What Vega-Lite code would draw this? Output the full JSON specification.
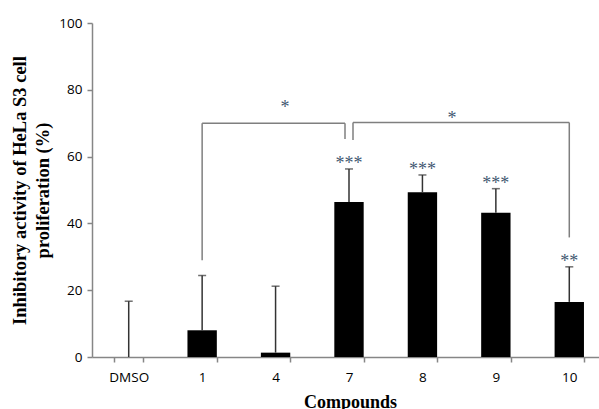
{
  "$schema": "https://vega.github.io/schema/vega-lite/v6.json",
  "autosize": {"type": "none"},
  "width": 506,
  "height": 334,
  "padding": {"left": 92, "top": 23, "right": 1, "bottom": 52},
  "background": "white",
  "config": {"view": {"stroke": null}},
  "datasets": {
    "bars": [
      {"c": "DMSO", "v": 0, "u": 16.7, "star": ""},
      {"c": "1", "v": 8.0, "u": 24.4, "star": ""},
      {"c": "4", "v": 1.3, "u": 21.2, "star": ""},
      {"c": "7", "v": 46.4, "u": 56.3, "star": "***"},
      {"c": "8", "v": 49.3, "u": 54.5, "star": "***"},
      {"c": "9", "v": 43.2, "u": 50.4, "star": "***"},
      {"c": "10", "v": 16.5, "u": 27.0, "star": "**"}
    ],
    "brackets": [
      {"id": "L", "from": "1", "to": "7", "top": 70, "fromEnd": 29, "toEnd": 65.3, "sig": "*", "at": "4", "sigY": 75.5},
      {"id": "R", "from": "7", "to": "10", "top": 70.2, "fromEnd": 65, "toEnd": 35.8, "sig": "*", "at": "8", "sigY": 72.2}
    ]
  },
  "layer": [
    {
      "data": {"name": "bars"},
      "mark": {"type": "bar", "color": "black"},
      "encoding": {
        "x": {
          "field": "c", "type": "nominal", "title": "Compounds",
          "scale": {"domain": ["DMSO", "1", "4", "7", "8", "9", "10"], "paddingInner": 0.6, "paddingOuter": 0.3, "range": [0, 514]},
          "axis": {
            "domainColor": "#868686", "domainWidth": 1.5,
            "tickColor": "#868686", "tickWidth": 1.5, "tickSize": 5, "tickBand": "extent",
            "labelAngle": 0, "labelFont": "Open Sans", "labelFontSize": 13.5, "labelColor": "black", "labelPadding": 8,
            "titleFont": "Liberation Serif", "titleFontWeight": "bold", "titleFontSize": 18, "titleColor": "black",
            "titleX": 258, "titleY": 45, "titleBaseline": "middle"
          }
        },
        "y": {
          "field": "v", "type": "quantitative", "title": ["Inhibitory activity of HeLa S3 cell", "proliferation (%)"],
          "scale": {"domain": [0, 100], "nice": false},
          "axis": {
            "values": [0, 20, 40, 60, 80, 100],
            "grid": false,
            "domainColor": "#868686", "domainWidth": 1.5,
            "tickColor": "#868686", "tickWidth": 1.5, "tickSize": 5,
            "labelFont": "Open Sans", "labelFontSize": 13.5, "labelColor": "black", "labelPadding": 5,
            "titleFont": "Liberation Serif", "titleFontWeight": "bold", "titleFontSize": 18.5, "titleColor": "black",
            "titleX": -73, "titleY": 167, "titleBaseline": "middle", "titleAlign": "center", "titleLineHeight": 23
          }
        }
      }
    },
    {
      "data": {"name": "bars"},
      "mark": {"type": "rule", "color": "#333333", "strokeWidth": 1.5},
      "encoding": {
        "x": {"field": "c", "type": "nominal", "title": "Compounds", "scale": {"domain": ["DMSO", "1", "4", "7", "8", "9", "10"]}},
        "y": {"field": "v", "type": "quantitative", "title": ["Inhibitory activity of HeLa S3 cell", "proliferation (%)"]},
        "y2": {"field": "u"}
      }
    },
    {
      "data": {"name": "bars"},
      "mark": {"type": "tick", "color": "#333333", "size": 8, "thickness": 1.5, "orient": "horizontal"},
      "encoding": {
        "x": {"field": "c", "type": "nominal", "title": "Compounds", "scale": {"domain": ["DMSO", "1", "4", "7", "8", "9", "10"]}},
        "y": {"field": "u", "type": "quantitative", "title": ["Inhibitory activity of HeLa S3 cell", "proliferation (%)"]}
      }
    },
    {
      "data": {"name": "bars"},
      "mark": {"type": "text", "font": "Liberation Serif", "fontSize": 18, "color": "#3F5871", "baseline": "middle", "dy": -5},
      "encoding": {
        "x": {"field": "c", "type": "nominal", "title": "Compounds", "scale": {"domain": ["DMSO", "1", "4", "7", "8", "9", "10"]}},
        "y": {"field": "u", "type": "quantitative", "title": ["Inhibitory activity of HeLa S3 cell", "proliferation (%)"]},
        "text": {"field": "star"}
      }
    },
    {
      "data": {"name": "brackets"},
      "transform": [{"filter": "datum.id === 'L'"}],
      "mark": {"type": "rule", "color": "#7f7f7f", "strokeWidth": 1.5, "x2Offset": -4},
      "encoding": {
        "x": {"field": "from", "type": "nominal", "title": "Compounds", "scale": {"domain": ["DMSO", "1", "4", "7", "8", "9", "10"]}},
        "x2": {"field": "to"},
        "y": {"field": "top", "type": "quantitative", "title": ["Inhibitory activity of HeLa S3 cell", "proliferation (%)"]}
      }
    },
    {
      "data": {"name": "brackets"},
      "transform": [{"filter": "datum.id === 'R'"}],
      "mark": {"type": "rule", "color": "#7f7f7f", "strokeWidth": 1.5, "xOffset": 4},
      "encoding": {
        "x": {"field": "from", "type": "nominal", "title": "Compounds", "scale": {"domain": ["DMSO", "1", "4", "7", "8", "9", "10"]}},
        "x2": {"field": "to"},
        "y": {"field": "top", "type": "quantitative", "title": ["Inhibitory activity of HeLa S3 cell", "proliferation (%)"]}
      }
    },
    {
      "data": {"name": "brackets"},
      "transform": [{"filter": "datum.id === 'L'"}],
      "mark": {"type": "rule", "color": "#7f7f7f", "strokeWidth": 1.5},
      "encoding": {
        "x": {"field": "from", "type": "nominal", "title": "Compounds", "scale": {"domain": ["DMSO", "1", "4", "7", "8", "9", "10"]}},
        "y": {"field": "fromEnd", "type": "quantitative", "title": ["Inhibitory activity of HeLa S3 cell", "proliferation (%)"]},
        "y2": {"field": "top"}
      }
    },
    {
      "data": {"name": "brackets"},
      "transform": [{"filter": "datum.id === 'L'"}],
      "mark": {"type": "rule", "color": "#7f7f7f", "strokeWidth": 1.5, "xOffset": -4},
      "encoding": {
        "x": {"field": "to", "type": "nominal", "title": "Compounds", "scale": {"domain": ["DMSO", "1", "4", "7", "8", "9", "10"]}},
        "y": {"field": "toEnd", "type": "quantitative", "title": ["Inhibitory activity of HeLa S3 cell", "proliferation (%)"]},
        "y2": {"field": "top"}
      }
    },
    {
      "data": {"name": "brackets"},
      "transform": [{"filter": "datum.id === 'R'"}],
      "mark": {"type": "rule", "color": "#7f7f7f", "strokeWidth": 1.5, "xOffset": 4},
      "encoding": {
        "x": {"field": "from", "type": "nominal", "title": "Compounds", "scale": {"domain": ["DMSO", "1", "4", "7", "8", "9", "10"]}},
        "y": {"field": "fromEnd", "type": "quantitative", "title": ["Inhibitory activity of HeLa S3 cell", "proliferation (%)"]},
        "y2": {"field": "top"}
      }
    },
    {
      "data": {"name": "brackets"},
      "transform": [{"filter": "datum.id === 'R'"}],
      "mark": {"type": "rule", "color": "#7f7f7f", "strokeWidth": 1.5},
      "encoding": {
        "x": {"field": "to", "type": "nominal", "title": "Compounds", "scale": {"domain": ["DMSO", "1", "4", "7", "8", "9", "10"]}},
        "y": {"field": "toEnd", "type": "quantitative", "title": ["Inhibitory activity of HeLa S3 cell", "proliferation (%)"]},
        "y2": {"field": "top"}
      }
    },
    {
      "data": {"name": "brackets"},
      "transform": [{"filter": "datum.id === 'L'"}],
      "mark": {"type": "text", "font": "Liberation Serif", "fontSize": 18, "color": "#3F5871", "baseline": "middle", "dx": 9.5, "dy": 3},
      "encoding": {
        "x": {"field": "at", "type": "nominal", "title": "Compounds", "scale": {"domain": ["DMSO", "1", "4", "7", "8", "9", "10"]}},
        "y": {"field": "sigY", "type": "quantitative", "title": ["Inhibitory activity of HeLa S3 cell", "proliferation (%)"]},
        "text": {"field": "sig"}
      }
    },
    {
      "data": {"name": "brackets"},
      "transform": [{"filter": "datum.id === 'R'"}],
      "mark": {"type": "text", "font": "Liberation Serif", "fontSize": 18, "color": "#3F5871", "baseline": "middle", "dx": 29.5, "dy": 3},
      "encoding": {
        "x": {"field": "at", "type": "nominal", "title": "Compounds", "scale": {"domain": ["DMSO", "1", "4", "7", "8", "9", "10"]}},
        "y": {"field": "sigY", "type": "quantitative", "title": ["Inhibitory activity of HeLa S3 cell", "proliferation (%)"]},
        "text": {"field": "sig"}
      }
    }
  ]
}
